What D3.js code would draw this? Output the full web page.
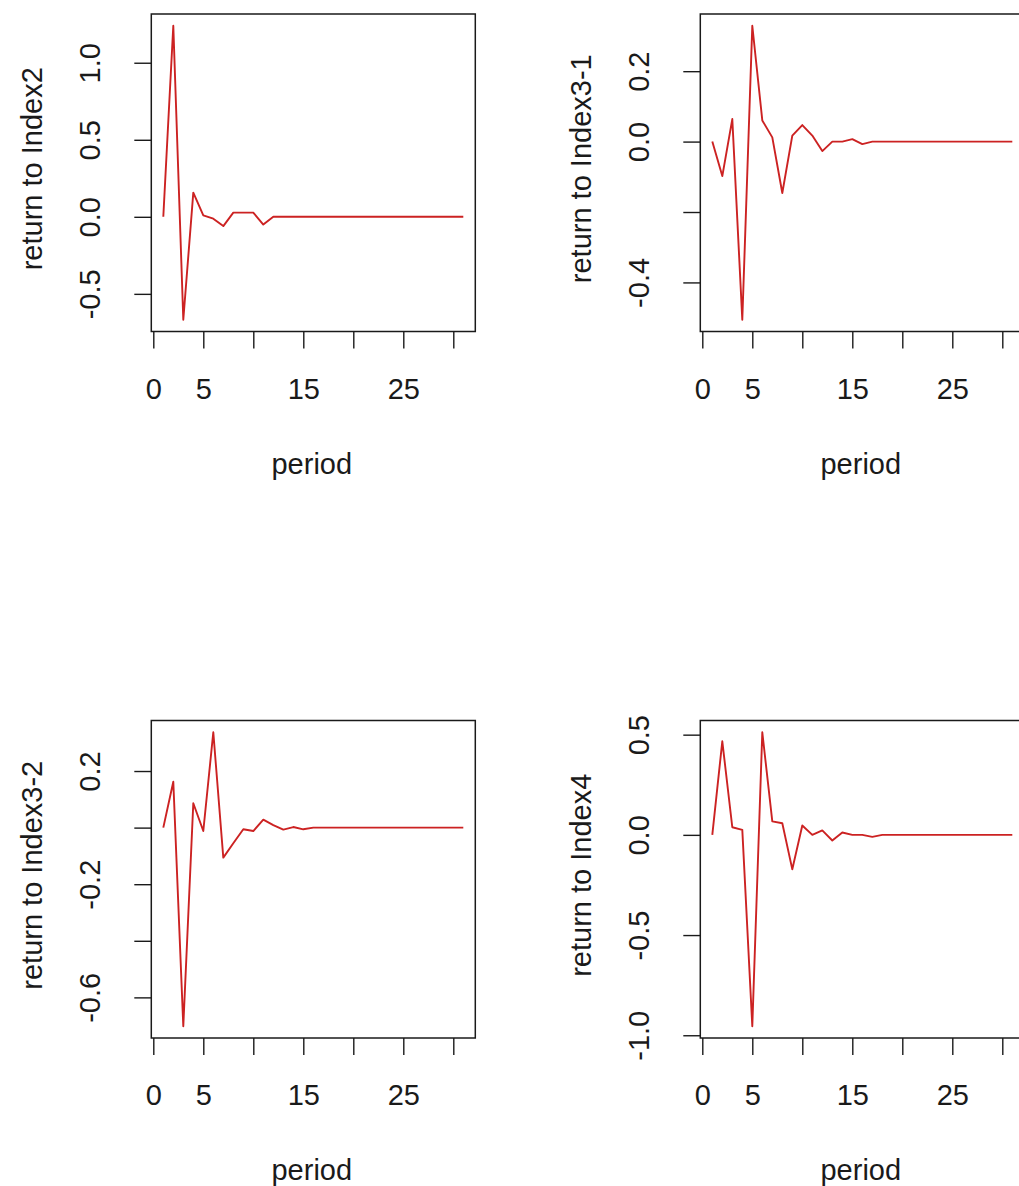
<!DOCTYPE html>
<html>
<head>
<meta charset="utf-8">
<script src="https://cdn.jsdelivr.net/npm/d3@7"></script>
<style>
  body { margin: 0; background: #fff; }
  svg { display: block; font-family: "Liberation Sans", Arial, sans-serif; }
</style>
</head>
<body>
<svg id="chart" width="1019" height="1186"></svg>
<script>
// impulse responses, periods 1..31
var periods = d3.range(1, 32);

var index2 = [0, 1.24, -0.668, 0.157, 0.01, -0.012, -0.06, 0.027, 0.027, 0.027, -0.05, 0,
  0, 0, 0, 0, 0, 0, 0, 0, 0, 0, 0, 0, 0, 0, 0, 0, 0, 0, 0];
var index3_1 = [0, -0.098, 0.064, -0.506, 0.329, 0.06, 0.012, -0.146, 0.017, 0.047, 0.017, -0.027,
  0, 0, 0.007, -0.007, 0, 0, 0, 0, 0, 0, 0, 0, 0, 0, 0, 0, 0, 0, 0];
var index3_2 = [0, 0.162, -0.702, 0.086, -0.012, 0.337, -0.106, -0.055, -0.006, -0.012, 0.028, 0.009,
  -0.007, 0.002, -0.006, 0, 0, 0, 0, 0, 0, 0, 0, 0, 0, 0, 0, 0, 0, 0, 0];
var index4 = [0, 0.467, 0.038, 0.025, -0.955, 0.512, 0.067, 0.058, -0.172, 0.047, 0, 0.022,
  -0.028, 0.012, 0, 0, -0.01, 0, 0, 0, 0, 0, 0, 0, 0, 0, 0, 0, 0, 0, 0];

var xTicks = [0, 5, 10, 15, 20, 25, 30];
var xTickLabels = ["0", "5", "", "15", "", "25", ""];

var yTicks2 = [-0.5, 0, 0.5, 1];
var yLabels2 = ["-0.5", "0.0", "0.5", "1.0"];
var yTicks31 = [-0.4, -0.2, 0, 0.2];
var yLabels31 = ["-0.4", "", "0.0", "0.2"];
var yTicks32 = [-0.6, -0.4, -0.2, 0, 0.2];
var yLabels32 = ["-0.6", "", "-0.2", "", "0.2"];
var yTicks4 = [-1, -0.5, 0, 0.5];
var yLabels4 = ["-1.0", "-0.5", "0.0", "0.5"];

var titles = ["return to Index2", "return to Index3-1", "return to Index3-2", "return to Index4"];

var panels = [
  {values: index2, yTicks: yTicks2, yLabels: yLabels2, title: titles[0], left: 151.3, top: 14},
  {values: index3_1, yTicks: yTicks31, yLabels: yLabels31, title: titles[1], left: 700.3, top: 14},
  {values: index3_2, yTicks: yTicks32, yLabels: yLabels32, title: titles[2], left: 151.3, top: 720.5},
  {values: index4, yTicks: yTicks4, yLabels: yLabels4, title: titles[3], left: 700.3, top: 720.5}
];

var boxW = 324, boxH = 317.5;
var fontSize = 29;
var ink = "#1a1a1a";

var svg = d3.select("#chart");

panels.forEach(function(p) {
  var g = svg.append("g").attr("transform", "translate(" + p.left + "," + p.top + ")");

  // R style 4% range padding
  var xr = d3.extent(periods), yr = d3.extent(p.values);
  var xp = (xr[1] - xr[0]) * 0.04, yp = (yr[1] - yr[0]) * 0.04;

  var x = d3.scaleLinear().domain([xr[0] - xp, xr[1] + xp]).range([0, boxW]);
  var y = d3.scaleLinear().domain([yr[0] - yp, yr[1] + yp]).range([boxH, 0]);

  var xAxis = d3.axisBottom(x)
      .tickValues(xTicks)
      .tickFormat(function(d, i) { return xTickLabels[i]; })
      .tickSize(17)
      .tickSizeOuter(0);

  var gx = g.append("g")
      .attr("transform", "translate(0," + boxH + ")")
      .call(xAxis);
  gx.select(".domain").remove();
  gx.selectAll(".tick line").attr("stroke", ink).attr("stroke-width", 1.4);
  gx.selectAll(".tick text")
      .attr("y", 67).attr("dy", 0)
      .attr("fill", ink)
      .style("font-size", fontSize + "px")
      .style("font-family", "Liberation Sans, Arial, sans-serif");

  var yAxis = d3.axisLeft(y)
      .tickValues(p.yTicks)
      .tickFormat(function(d, i) { return p.yLabels[i]; })
      .tickSize(17)
      .tickSizeOuter(0);

  var gy = g.append("g").call(yAxis);
  gy.select(".domain").remove();
  gy.selectAll(".tick line").attr("stroke", ink).attr("stroke-width", 1.4);
  gy.selectAll(".tick text")
      .attr("transform", "rotate(-90)")
      .attr("x", 0).attr("y", -51).attr("dy", 0)
      .attr("text-anchor", "middle")
      .attr("fill", ink)
      .style("font-size", fontSize + "px")
      .style("font-family", "Liberation Sans, Arial, sans-serif");

  // the line
  var line = d3.line()
      .x(function(d, i) { return x(periods[i]); })
      .y(function(d) { return y(d); });

  g.append("path")
      .datum(p.values)
      .attr("d", line)
      .attr("fill", "none")
      .attr("stroke", "#cc2222")
      .attr("stroke-width", 1.9)
      .attr("stroke-linejoin", "round");

  // box
  g.append("rect")
      .attr("width", boxW).attr("height", boxH)
      .attr("fill", "none")
      .attr("stroke", ink)
      .attr("stroke-width", 1.5);

  // axis titles
  g.append("text")
      .attr("x", boxW / 2 - 1.5)
      .attr("y", boxH + 142)
      .attr("text-anchor", "middle")
      .attr("fill", ink)
      .style("font-size", fontSize + "px")
      .text("period");

  g.append("text")
      .attr("transform", "translate(-109," + (boxH / 2 - 4) + ") rotate(-90)")
      .attr("text-anchor", "middle")
      .attr("fill", ink)
      .style("font-size", fontSize + "px")
      .text(p.title);
});
</script>
</body>
</html>
